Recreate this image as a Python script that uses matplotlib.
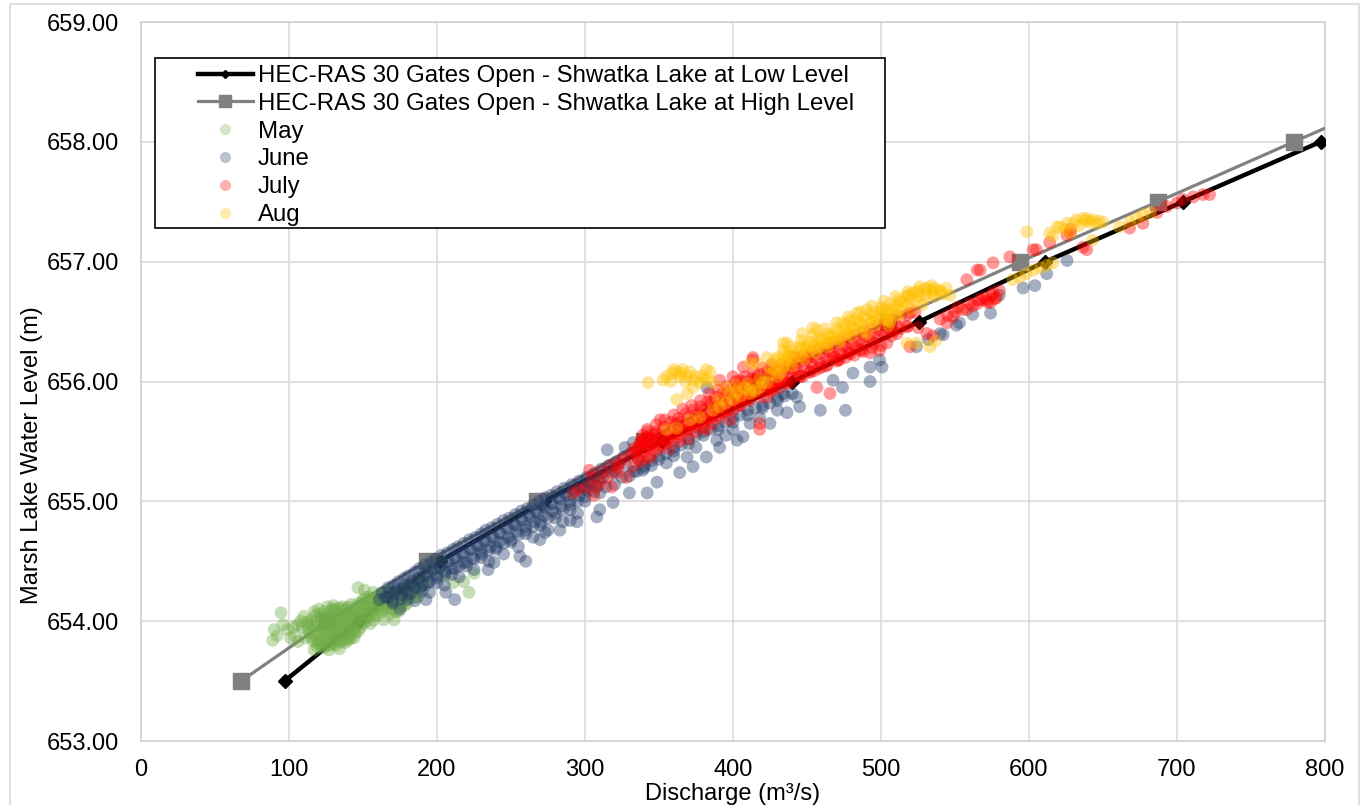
import matplotlib
matplotlib.use('Agg')
import matplotlib.pyplot as plt
from matplotlib.lines import Line2D
from matplotlib.patches import Rectangle

plt.rcParams['font.family'] = ['Liberation Sans', 'DejaVu Sans']

# ---------------- data ----------------
levels_low = [653.5, 654.0, 654.5, 655.0, 655.5, 656.0, 656.5, 657.0, 657.5, 658.0]
low_x = [97, 147, 202, 272, 352, 440, 526, 611, 704, 797]

levels_high = [653.5, 654.0, 654.5, 655.0, 655.5, 656.0, 656.5, 657.0, 657.5, 658.0, 658.5]
high_x = [67.6, 126, 193, 267.6, 340, 418, 505, 594, 687, 779, 871]

may_pts = [
    (89, 653.84), (94.6, 654.07), (90, 653.93), (99, 653.93), (104, 653.88), (106, 653.97),
    (108, 654.0), (111, 653.86), (113, 653.93), (115, 654.01), (117, 654.08), (117, 653.76),
    (119, 653.82), (120, 653.9), (121, 653.96), (122, 654.03), (123, 653.8), (124, 653.86),
    (125, 653.92), (126, 653.98), (126, 654.12), (127, 653.76), (128, 653.84), (129, 653.9),
    (130, 653.95), (130, 654.13), (131, 654.03), (132, 653.8), (133, 653.87), (134, 653.93),
    (135, 654.0), (135, 654.09), (136, 653.83), (137, 653.87), (138, 653.95), (139, 654.04),
    (140, 654.12), (140, 653.84), (142, 653.98), (143, 654.06), (144, 653.92), (144, 653.86),
    (146.6, 654.28), (147, 654.03), (148.6, 653.95), (150, 654.08), (151, 654.26), (152, 654.0),
    (154, 654.12), (155, 654.05), (157, 654.24), (157, 654.01), (159, 654.1), (162, 654.15),
    (164, 654.01), (165, 654.1), (167, 654.2), (168, 654.06), (171, 654.01), (172, 654.15),
    (175.6, 654.12), (178, 654.22), (180, 654.15), (183, 654.26), (187, 654.2), (190, 654.33),
    (196, 654.43), (202.6, 654.51), (205, 654.38), (211, 654.32), (218, 654.33), (221.6, 654.24),
    (225, 654.4),
    (109, 653.95), (110, 654.04), (112, 653.99), (114, 653.9), (116, 653.84), (116, 653.97),
    (118, 654.05), (118, 653.88), (119, 653.79), (120, 654.1), (121, 653.84), (122, 653.92),
    (123, 654.0), (124, 654.08), (124, 653.78), (125, 653.83), (126, 653.89), (127, 653.95),
    (127, 654.05), (128, 654.0), (129, 653.8), (129, 654.1), (130, 653.86), (131, 653.92),
    (132, 653.98), (132, 654.07), (133, 653.83), (134, 654.02), (134, 653.77), (135, 653.9),
    (136, 653.96), (136, 654.12), (137, 654.05), (138, 653.82), (138, 654.0), (139, 653.91),
    (140, 653.97), (141, 654.06), (141, 653.88), (142, 654.14), (143, 653.93), (144, 654.0),
    (145, 654.09), (145, 653.9), (146, 654.04), (147, 654.15), (148, 653.98), (149, 654.07),
    (150, 654.18), (151, 654.02), (152, 654.12), (153, 654.06), (154, 654.2), (155, 654.1),
    (156, 654.15), (158, 654.05), (159, 654.19), (160, 654.12), (161, 654.22), (163, 654.08),
    (163, 654.18), (165, 654.25), (166, 654.14), (169, 654.19), (170, 654.1), (173, 654.22),
    (174, 654.08), (177, 654.16), (179, 654.28), (181, 654.2), (184, 654.3), (186, 654.24),
    (189, 654.36), (192, 654.3), (194, 654.38),
    (101, 653.86), (103, 653.95), (106, 653.83), (96, 653.97), (92, 653.88),
    (113, 653.97), (115, 653.87), (117, 653.93), (118, 654.0), (120, 653.83), (121, 654.06),
    (122, 653.78), (123, 653.94), (125, 654.02), (126, 653.8), (127, 653.9), (128, 654.08),
    (129, 653.97), (130, 653.82), (131, 654.1), (132, 653.9), (133, 654.0), (134, 654.11),
    (135, 653.85), (136, 654.05), (137, 653.93), (138, 654.1), (139, 653.85), (140, 654.02),
    (141, 653.93), (142, 653.86), (143, 654.1), (144, 654.04), (145, 653.96), (146, 654.12),
    (147, 653.92), (148, 654.06), (149, 654.15), (150, 653.98), (151, 654.12), (152, 654.2),
    (153, 654.03), (154, 654.15), (155, 653.98), (156, 654.08), (157, 654.18), (158, 654.12),
    (160, 654.05), (161, 654.16), (162, 654.22), (164, 654.12), (166, 654.2), (167, 654.1),
    (168, 654.25), (170, 654.16), (171, 654.24), (172, 654.08), (174, 654.18), (176, 654.26),
    (178, 654.13), (180, 654.22), (182, 654.3), (185, 654.2), (188, 654.28),
]

june_pts = [
    (161, 654.18), (165, 654.2), (168, 654.24), (170, 654.17), (173, 654.27), (176, 654.22),
    (178, 654.3), (180, 654.25), (183, 654.33), (185, 654.28), (188, 654.36), (190, 654.3),
    (193, 654.4), (195, 654.33), (198, 654.44), (200, 654.38), (203, 654.47), (205, 654.41),
    (208, 654.5), (210, 654.44), (213, 654.53), (215, 654.46), (218, 654.57), (220, 654.49),
    (223, 654.6), (225, 654.52), (228, 654.63), (230, 654.56), (233, 654.67), (235, 654.59),
    (238, 654.7), (240, 654.62), (243, 654.73), (245, 654.65), (248, 654.77), (250, 654.68),
    (253, 654.8), (255, 654.72), (258, 654.84), (260, 654.76), (263, 654.87), (265, 654.79),
    (268, 654.9), (270, 654.83), (273, 654.95), (275, 654.86), (278, 654.98), (280, 654.9),
    (283, 655.02), (285, 654.93), (288, 655.05), (290, 654.97), (293, 655.09), (295, 655.0),
    (298, 655.12), (300, 655.04), (303, 655.15), (306, 655.08), (310, 655.18), (314, 655.12),
    (318, 655.24),
    (175, 654.1), (185, 654.17), (195, 654.24), (205, 654.3), (215, 654.37), (225, 654.43),
    (235, 654.5), (245, 654.56), (255, 654.62), (265, 654.7), (275, 654.76), (285, 654.83),
    (295, 654.9),
    (163, 654.24), (167, 654.28), (171, 654.3), (174, 654.33), (178, 654.36), (181, 654.38),
    (185, 654.41), (188, 654.44), (192, 654.47), (196, 654.49), (199, 654.52), (203, 654.55),
    (207, 654.57), (211, 654.6), (214, 654.62), (218, 654.65), (222, 654.68), (226, 654.7),
    (230, 654.73), (233, 654.76), (237, 654.78), (241, 654.81), (245, 654.84), (249, 654.86),
    (253, 654.89), (257, 654.92), (261, 654.94), (265, 654.97), (269, 655.0), (273, 655.03),
    (277, 655.05), (281, 655.08), (286, 655.11), (291, 655.14), (296, 655.17), (301, 655.2),
    (306, 655.23), (311, 655.27), (316, 655.3), (321, 655.33), (326, 655.37), (331, 655.4),
    (336, 655.43), (341, 655.46), (346, 655.49), (352, 655.52),
    (180, 654.18), (190, 654.25), (200, 654.32), (210, 654.39), (220, 654.46), (230, 654.53),
    (240, 654.6), (250, 654.66), (260, 654.73), (270, 654.8), (280, 654.86), (290, 654.93),
    (300, 655.0), (310, 655.07), (320, 655.14), (330, 655.21), (340, 655.28), (350, 655.35),
    (360, 655.42), (370, 655.48), (380, 655.55), (390, 655.6), (400, 655.66), (410, 655.72),
    (420, 655.78), (430, 655.84),
    (167, 654.2), (172, 654.24), (177, 654.27), (182, 654.31), (187, 654.35), (192, 654.38),
    (197, 654.42), (202, 654.45), (207, 654.49), (212, 654.53), (217, 654.56), (222, 654.6),
    (227, 654.63), (232, 654.67), (237, 654.71), (242, 654.74), (247, 654.78), (252, 654.81),
    (257, 654.85), (262, 654.89), (267, 654.92), (272, 654.96), (277, 654.99), (282, 655.03),
    (287, 655.06), (292, 655.1), (297, 655.14), (302, 655.17), (307, 655.21), (312, 655.24),
    (317, 655.28), (322, 655.31),
    (170, 654.15), (176, 654.19), (182, 654.23), (188, 654.27), (194, 654.32), (200, 654.36),
    (206, 654.4), (212, 654.44), (218, 654.49), (224, 654.53), (230, 654.58), (236, 654.62),
    (242, 654.66), (248, 654.7), (254, 654.75), (260, 654.79), (266, 654.83), (272, 654.88),
    (278, 654.92), (284, 654.96), (290, 655.0), (296, 655.05), (302, 655.09), (308, 655.13),
    (335, 655.25), (340, 655.3), (345, 655.34), (350, 655.38), (355, 655.4), (360, 655.45),
    (365, 655.47), (370, 655.52), (375, 655.55), (380, 655.58), (385, 655.6), (390, 655.63),
    (395, 655.66), (400, 655.7), (405, 655.72), (410, 655.76), (415, 655.78), (420, 655.8),
    (425, 655.82), (430, 655.86), (435, 655.88), (440, 655.9),
    (192.6, 654.18), (206, 654.24), (212, 654.18), (234.5, 654.43), (238.5, 654.49), (256, 654.54),
    (260, 654.5), (269.6, 654.68), (273, 654.74), (283, 654.76), (290, 654.84), (294.6, 654.83),
    (308, 654.87), (310, 654.93), (319, 654.99), (330, 655.07), (342, 655.07), (348.6, 655.16),
    (364, 655.24), (373, 655.29), (382, 655.37), (391, 655.45), (402.7, 655.51), (406.8, 655.54),
    (425, 655.65), (436.5, 655.74), (445, 655.79),
    (315, 655.43), (332.6, 655.49), (327, 655.45),
    (300, 655.1), (305, 655.15), (312, 655.2), (320, 655.25), (328, 655.3), (336, 655.35),
    (325, 655.2), (333, 655.25), (339, 655.26), (345, 655.3), (355, 655.32), (360, 655.38),
    (369, 655.37), (375, 655.45), (389, 655.51), (395, 655.55), (400, 655.6), (411.5, 655.65),
    (418, 655.7), (430, 655.76), (443, 655.87), (382.4, 655.95), (434, 655.9),
    (467.6, 656.01), (474, 655.95), (481, 656.07), (492.6, 656.12), (500.7, 656.12), (524, 656.29),
    (532, 656.35), (540, 656.4), (542, 656.39), (551, 656.47), (562, 656.56), (574, 656.57),
    (580, 656.72), (596, 656.78), (604, 656.8), (612, 656.9), (625.7, 657.01), (459, 655.76),
    (476, 655.76), (492.6, 656.0), (499, 656.18), (553, 656.49),
]

july_pts = [
    (292, 655.07), (296, 655.1), (301, 655.12), (303, 655.26), (306, 655.05), (310, 655.15),
    (315, 655.2), (318, 655.12), (321.6, 655.24), (323.6, 655.32), (328, 655.2), (332.6, 655.29),
    (332.6, 655.4), (336, 655.35), (339, 655.51), (340, 655.42), (342, 655.6), (343, 655.36),
    (346, 655.49), (348, 655.42), (350.7, 655.54), (350.7, 655.68), (352, 655.47), (355, 655.51),
    (357, 655.44), (360, 655.56), (362, 655.65), (364, 655.5), (367, 655.6), (370, 655.52),
    (373, 655.65), (375, 655.58), (377.7, 655.74), (380, 655.62), (382, 655.6), (384, 655.7),
    (386, 655.65), (389, 655.79), (391, 655.7), (394, 655.75), (398, 655.68), (400, 655.76),
    (400, 656.04), (391, 656.01), (402.7, 655.87), (404.7, 656.01), (405, 655.8), (407, 656.12),
    (410, 655.85), (413.5, 656.18), (413.5, 656.2), (415, 655.9), (418, 655.65), (418, 655.6),
    (420, 655.95), (423, 655.87), (427, 655.93), (427, 655.95), (432, 656.0), (436.5, 655.99),
    (440.5, 656.1), (440.5, 656.21), (445, 656.04), (450, 656.2), (452, 656.08), (456.7, 655.95),
    (460, 656.12), (465.5, 655.9), (467.6, 656.2), (472, 656.18), (478, 656.24), (486, 656.26),
    (492.6, 656.24), (499, 656.26), (504, 656.32), (507, 656.38), (510.8, 656.4), (517.6, 656.46),
    (519.6, 656.57), (519.6, 656.29), (525, 656.45), (531, 656.4), (535, 656.38), (544.6, 656.49),
    (548.6, 656.54), (558, 656.6), (562, 656.63), (565, 656.65), (568, 656.68), (571.6, 656.68),
    (574, 656.66), (575.7, 656.74), (578, 656.7), (580, 656.76), (558, 656.85), (565, 656.93),
    (567, 656.93), (575.7, 656.99), (587, 657.04), (602.7, 657.1), (605, 657.1), (614, 657.16),
    (625.6, 657.22), (628, 657.24), (628, 657.27), (636.5, 657.12), (639, 657.1), (668, 657.28),
    (677, 657.32), (686.5, 657.41), (693, 657.46), (700, 657.49), (704, 657.52), (711, 657.54),
    (717.6, 657.56), (722, 657.56),
    (335, 655.42), (340, 655.47), (345, 655.52), (350, 655.56), (355, 655.6), (360, 655.62),
    (365, 655.66), (370, 655.7), (375, 655.72), (380, 655.76), (385, 655.8), (390, 655.84),
    (395, 655.86), (400, 655.9), (405, 655.93), (410, 655.97), (415, 656.0), (420, 656.02),
    (425, 656.05), (430, 656.08), (435, 656.1), (440, 656.14), (445, 656.16), (450, 656.18),
    (455, 656.2), (460, 656.23), (465, 656.25), (470, 656.28), (475, 656.3), (480, 656.32),
    (485, 656.34), (490, 656.37), (495, 656.39), (500, 656.42), (505, 656.44), (510, 656.47),
    (338, 655.33), (344, 655.38), (350, 655.45), (356, 655.49), (362, 655.53), (368, 655.58),
    (374, 655.62), (380, 655.66), (386, 655.7), (392, 655.74), (398, 655.78), (404, 655.82),
    (410, 655.86), (416, 655.9), (422, 655.92), (428, 655.96), (434, 655.99), (440, 656.03),
    (446, 656.05), (452, 656.08), (458, 656.11), (464, 656.14), (470, 656.17), (476, 656.2),
    (482, 656.22), (488, 656.25), (494, 656.28), (500, 656.3),
    (342, 655.58), (348, 655.64), (354, 655.68), (360, 655.72), (366, 655.77), (372, 655.8),
    (378, 655.84), (384, 655.9), (390, 655.93), (396, 655.96), (402, 656.0), (408, 656.04),
    (414, 656.08), (420, 656.11), (426, 656.14),
    (337, 655.48), (343, 655.54), (348, 655.58), (353, 655.62), (358, 655.66), (363, 655.69),
    (368, 655.73), (373, 655.76), (378, 655.79), (383, 655.83), (388, 655.87), (393, 655.9),
    (398, 655.93), (403, 655.96), (408, 656.0), (413, 656.03), (418, 656.06), (423, 656.08),
    (428, 656.11), (433, 656.14), (438, 656.17), (443, 656.2), (448, 656.22), (453, 656.25),
    (458, 656.27), (463, 656.29), (468, 656.32), (473, 656.34), (478, 656.37), (483, 656.39),
    (488, 656.42), (493, 656.44), (498, 656.47), (503, 656.49), (508, 656.52), (513, 656.54),
    (518, 656.56), (523, 656.58),
    (337, 655.38), (343, 655.44), (348, 655.48), (353, 655.52), (358, 655.56), (363, 655.59),
    (368, 655.63), (373, 655.66), (378, 655.69), (383, 655.73), (388, 655.77), (393, 655.8),
    (398, 655.83), (403, 655.86), (408, 655.9), (413, 655.93), (418, 655.96), (423, 655.98),
    (428, 656.01), (433, 656.04), (438, 656.07), (443, 656.1), (448, 656.12), (453, 656.15),
    (458, 656.17), (463, 656.19), (468, 656.22), (473, 656.24), (478, 656.27), (483, 656.29),
    (488, 656.32), (493, 656.34), (498, 656.37), (503, 656.39), (508, 656.42), (513, 656.44),
    (518, 656.46),
    (305, 655.2), (312, 655.25), (318, 655.3), (325, 655.35), (330, 655.38), (322, 655.28),
    (308, 655.12),
    (540, 656.52), (545, 656.55), (550, 656.58), (555, 656.6), (560, 656.65), (570, 656.7),
    (575, 656.72), (552, 656.62), (566, 656.68), (572, 656.66), (577, 656.69),
    (338, 655.5), (341, 655.53), (344, 655.47), (336, 655.45), (346, 655.56), (333, 655.44),
    (339, 655.55), (342, 655.5),
    (385, 655.82), (395, 655.88), (405, 655.95), (415, 656.02), (425, 656.07), (435, 656.12),
    (390, 655.78), (410, 655.9), (430, 656.0),
    (355, 655.52), (362, 655.56), (369, 655.6), (376, 655.64), (383, 655.68), (390, 655.72),
    (397, 655.76), (404, 655.8), (411, 655.84), (418, 655.87), (425, 655.92), (432, 655.95),
    (439, 655.99),
    (447, 656.04), (455, 656.09), (463, 656.13), (471, 656.18), (479, 656.23), (487, 656.27),
    (495, 656.32),
]

aug_pts = [
    (342.6, 655.99), (352.7, 656.01), (358.8, 656.07), (362, 656.08), (366, 656.1), (369, 656.05),
    (373, 656.01), (377.7, 655.99), (384.5, 656.08), (362, 655.85), (369, 655.9), (373, 655.95),
    (362, 655.61), (355, 655.6), (371, 655.68), (377.7, 655.7), (386.5, 655.76), (391, 655.79),
    (400, 655.85), (411.5, 655.9), (418, 655.95), (423, 655.99), (430, 656.04), (434, 656.12),
    (436.5, 656.2), (416, 656.15), (434, 656.32), (382, 656.1), (386.5, 655.99), (411.5, 656.15),
    (411.5, 655.93), (420, 655.99), (423, 656.2), (430, 656.2), (434, 656.26), (438, 656.22),
    (445, 656.29), (447, 656.4), (450, 656.3), (454, 656.45), (456.7, 656.43), (456.7, 656.29),
    (460, 656.35), (463.5, 656.32), (467, 656.38), (472, 656.35), (474, 656.49), (477, 656.4),
    (479, 656.51), (481, 656.44), (483.8, 656.57), (486, 656.48), (490.5, 656.6), (490.5, 656.4),
    (494, 656.5), (497, 656.54), (501.4, 656.6), (504, 656.52), (508, 656.6), (510, 656.55),
    (513, 656.66), (517.6, 656.71), (521.6, 656.74), (526, 656.76), (531, 656.78), (535, 656.76),
    (540, 656.75), (546.6, 656.72), (517.6, 656.32), (524, 656.32), (533, 656.29), (537, 656.34),
    (436.5, 656.32), (589, 656.85), (594, 656.87), (598, 656.9), (603, 656.93), (608, 656.95),
    (612, 656.97), (616, 656.99), (598.6, 657.25), (614, 657.24), (616, 657.21), (619, 657.29),
    (621, 657.29), (625.7, 657.32), (628, 657.24), (632, 657.35), (636.5, 657.36), (639, 657.36),
    (641, 657.33), (643, 657.35), (645.6, 657.32), (643, 657.18), (661, 657.29), (668, 657.33),
    (673, 657.36), (677, 657.39), (682, 657.41),
    (425, 656.12), (430, 656.15), (435, 656.18), (440, 656.21), (445, 656.25), (450, 656.28),
    (455, 656.31), (460, 656.34), (465, 656.37), (470, 656.4), (475, 656.43), (480, 656.46),
    (485, 656.49), (490, 656.52), (495, 656.55), (500, 656.58), (505, 656.6), (510, 656.63),
    (515, 656.66), (520, 656.69), (525, 656.71), (530, 656.73), (535, 656.74), (540, 656.76),
    (432, 656.07), (440, 656.13), (448, 656.19), (456, 656.24), (464, 656.29), (472, 656.33),
    (480, 656.38), (488, 656.42), (496, 656.47), (504, 656.51), (512, 656.56), (520, 656.6),
    (528, 656.64),
    (438, 656.29), (446, 656.34), (454, 656.39), (462, 656.44), (470, 656.49), (478, 656.54),
    (486, 656.58), (494, 656.63), (502, 656.67), (510, 656.71), (518, 656.75), (526, 656.79),
    (534, 656.8),
    (355, 656.04), (364, 656.04), (371, 656.08), (379, 656.05), (380, 656.02),
    (395, 655.82), (405, 655.88), (415, 655.92), (408, 655.95),
    (630, 657.32), (634, 657.3), (638, 657.34), (624, 657.27), (647, 657.34), (650, 657.33),
    (428, 656.1), (434, 656.13), (440, 656.17), (446, 656.21), (452, 656.25), (458, 656.28),
    (464, 656.32), (470, 656.36), (476, 656.39), (482, 656.43), (488, 656.46), (494, 656.5),
    (500, 656.53), (506, 656.57), (512, 656.6), (518, 656.64), (524, 656.67), (530, 656.7),
    (536, 656.71), (542, 656.73),
    (428, 656.18), (434, 656.22), (440, 656.25), (446, 656.29), (452, 656.33), (458, 656.36),
    (464, 656.4), (470, 656.44), (476, 656.47), (482, 656.51), (488, 656.54), (494, 656.58),
    (500, 656.62), (506, 656.65), (512, 656.68), (518, 656.72), (524, 656.75), (530, 656.77),
    (536, 656.78), (544, 656.78),
    (358, 656.0), (365, 656.07), (368, 656.0), (375, 656.04), (360, 656.1), (383, 656.02),
    (390, 655.85), (398, 655.9), (403, 655.92), (410, 655.98), (418, 656.02), (425, 656.06),
    (395, 655.95), (402, 655.97),
    (503, 656.56), (506, 656.5), (505, 656.47),
]

months = ['May', 'June', 'July', 'Aug']
month_pts = [may_pts, june_pts, july_pts, aug_pts]
month_colors = ['#70AD47', '#1F3864', '#FF0000', '#FFC000']

label_low = 'HEC-RAS 30 Gates Open - Shwatka Lake at Low Level'
label_high = 'HEC-RAS 30 Gates Open - Shwatka Lake at High Level'

x_ticks = [0, 100, 200, 300, 400, 500, 600, 700, 800]
y_ticks = [653, 654, 655, 656, 657, 658, 659]

# ---------------- figure ----------------
W, H = 1368, 805
fig = plt.figure(figsize=(W / 100, H / 100), dpi=100)
ax = fig.add_axes([141 / W, (H - 741) / H, 1184 / W, 719 / H])

# outer chart border
fig.patches.append(Rectangle((10 / W, -0.02), 1349 / W, 1 - 4 / H + 0.02,
                             transform=fig.transFigure, fill=False,
                             edgecolor='#d9d9d9', lw=1.2))

ax.plot(low_x, levels_low, color='black', lw=3.2, marker='D', ms=7.6,
        zorder=3)
ax.plot(high_x, levels_high, color='#808080', lw=2.3, marker='s', ms=11.5,
        zorder=3)

for name, pts, col in zip(months, month_pts, month_colors):
    xs = [p[0] for p in pts]
    ys = [p[1] for p in pts]
    ax.scatter(xs, ys, s=85, color=col, alpha=0.4, edgecolors='none', zorder=4)

ax.set_xlim(0, 800)
ax.set_ylim(653, 659)
ax.set_xticks(x_ticks)
ax.set_yticks(y_ticks)
ax.set_yticklabels([f'{v:.2f}' for v in y_ticks])
ax.tick_params(axis='both', length=0, labelsize=17, colors='black')
ax.tick_params(axis='x', pad=13)
ax.tick_params(axis='y', pad=16)
ax.grid(True, color='#d9d9d9', lw=1.1, zorder=0)
ax.set_axisbelow(True)
for sp in ax.spines.values():
    sp.set_color('#d0d0d0')
    sp.set_linewidth(1.2)

ax.set_xlabel('Discharge (m³/s)', fontsize=17)
ax.xaxis.set_label_coords(0.5, -0.058)
ax.set_ylabel('Marsh Lake Water Level (m)', fontsize=17)
ax.yaxis.set_label_coords(-0.083, 0.398)

# legend frame
ax.add_patch(Rectangle((0.0118, 0.7135), 0.6166, 0.2365, transform=ax.transAxes,
                       facecolor='white', edgecolor='black', lw=1.2, zorder=6))

handles = [
    Line2D([], [], color='black', lw=3.2, marker='D', ms=4.5),
    Line2D([], [], color='#808080', lw=2.3, marker='s', ms=8),
]
for col in month_colors:
    handles.append(Line2D([], [], ls='none', marker='o', ms=8, color=col,
                          alpha=0.3, markeredgewidth=0))
labels = [label_low, label_high] + months
leg = ax.legend(handles, labels, loc='upper left', bbox_to_anchor=(0.0481, 0.940),
                frameon=False, fontsize=17.3, handlelength=2.29, handletextpad=0.21,
                labelspacing=0.24, borderpad=0, borderaxespad=0)
leg.set_zorder(7)

fig.savefig('out.png', dpi=100)
